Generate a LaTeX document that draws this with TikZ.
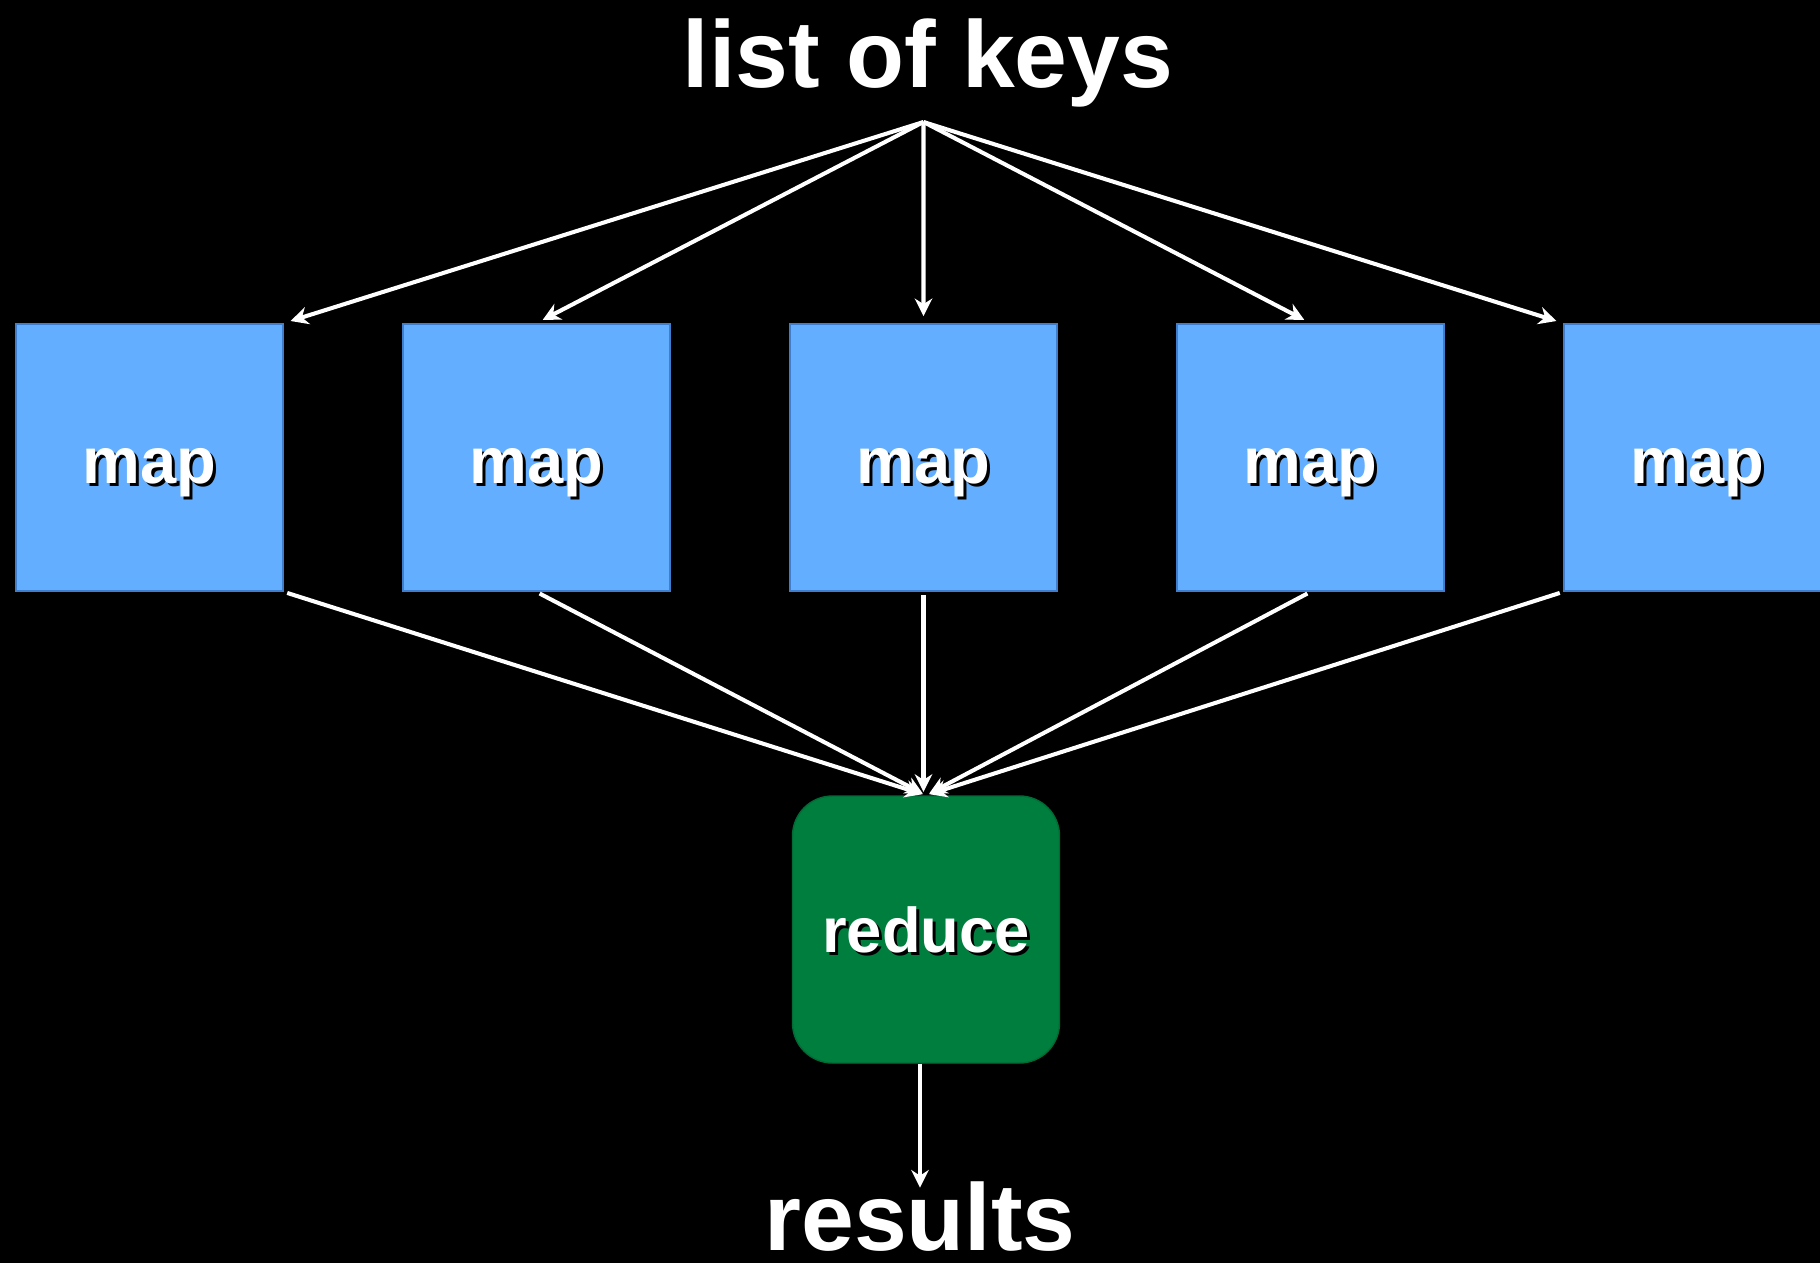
\documentclass[tikz,border=0pt]{standalone}
\usepackage{fontspec}
\setmainfont{Liberation Sans}
\usetikzlibrary{arrows.meta,positioning}
\definecolor{mapblue}{RGB}{99,174,255}
\definecolor{mapedge}{RGB}{62,126,204}
\definecolor{reducegreen}{RGB}{0,126,62}
% white label with a small black drop shadow
\newcommand{\shadowed}[1]{\makebox[0pt][l]{\hspace{0.03cm}\raisebox{-0.03cm}{\color{black}#1}}#1}
% baseline set below the node centre
\newcommand{\lowered}[2]{\raisebox{-#1}[0pt][0pt]{#2}}

\begin{document}
\begin{tikzpicture}[
    mapbox/.style={draw=mapedge, line width=0.5pt, fill=mapblue, minimum size=2.67cm,
        inner sep=0pt, text=white, font=\fontsize{18.5}{22}\selectfont\bfseries},
    reducebox/.style={draw=reducegreen!85!black, line width=0.4pt, fill=reducegreen,
        rounded corners=0.4cm, minimum size=2.67cm, inner sep=0pt, text=white,
        font=\fontsize{18}{22}\selectfont\bfseries},
    title/.style={text=white, font=\fontsize{27}{32}\selectfont\bfseries, inner sep=0pt},
    flow/.style={white, line width=1.15pt, -{Stealth[length=5pt,width=5pt]}}
]
    % Background
    \fill[black] (0,0) rectangle (18.2,12.63);
    \useasboundingbox (0,0) rectangle (18.2,12.63);

    % Input and output labels
    \node[title, anchor=base] (keys) at (9.28, 11.76) {list of keys};
    \node[title, anchor=base] (results) at (9.20, 0.13) {results};
    \coordinate (src) at (9.235, 11.41);

    % Map workers
    \foreach \i in {1,...,5} {
        \node[mapbox] (m\i) at ({1.495+(\i-1)*3.87}, 8.055) {\lowered{0.255cm}{\shadowed{map}}};
    }

    % Reducer
    \node[reducebox] (reduce) at (9.26, 3.335) {\lowered{0.235cm}{\shadowed{reduce}}};

    % Keys to maps
    \draw[flow, shorten >=2pt] (src) -- (m1.north east);
    \foreach \i in {2,3,4} {
        \draw[flow, shorten >=2pt] (src) -- (m\i.north);
    }
    \draw[flow, shorten >=2pt] (src) -- (m5.north west);

    % Maps to reducer
    \draw[flow, shorten <=1pt, shorten >=1pt] (m1.south east) -- (reduce.north);
    \draw[flow, shorten <=1pt, shorten >=1pt] (m2.south) -- (reduce.north);
    \draw[flow, shorten <=1pt, shorten >=1pt] (m3.south) -- (m3.south |- reduce.north);
    \draw[flow, shorten <=1pt, shorten >=1pt] (m4.south) -- (reduce.north);
    \draw[flow, shorten <=1pt, shorten >=1pt] (m5.south west) -- (reduce.north);

    % Reducer to results
    \draw[flow, shorten >=-2pt] (reduce.south -| results.north) -- (results.north);
\end{tikzpicture}
\end{document}
